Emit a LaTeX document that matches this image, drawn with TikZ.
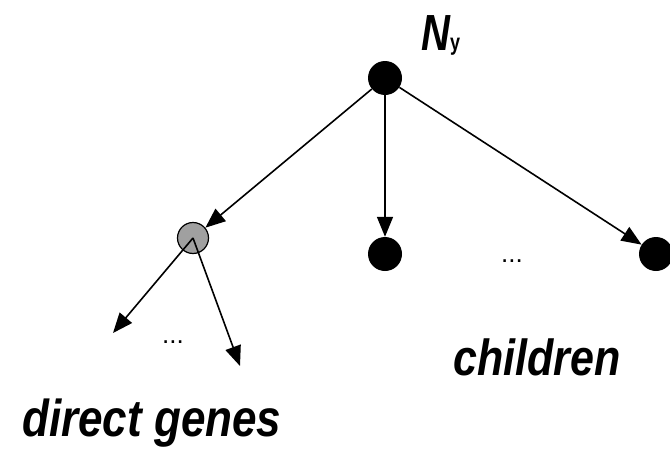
\documentclass[tikz,border=0pt]{standalone}
\usepackage{fontspec}
\setmainfont{Liberation Sans}
\usetikzlibrary{arrows.meta}
\begin{document}
\begin{tikzpicture}[x=1pt,y=-1pt,
  bdot/.style={circle,fill=black,minimum size=34pt,inner sep=0pt},
  gdot/.style={circle,draw=black,line width=1.2pt,fill={rgb,255:red,160;green,160;blue,160},minimum size=31pt,inner sep=0pt},
  arr/.style={line width=1.6pt,-{Triangle[length=20pt,width=16pt]}},
  dots/.style={font=\fontsize{26}{28}\selectfont,inner sep=0pt}]
\useasboundingbox (0,0) rectangle (670,450);
\node[bdot] (ny) at (385,78) {};
\node[gdot] (g) at (193,238) {};
\node[bdot] (c1) at (385,254) {};
\node[bdot] (c2) at (656,254) {};
\coordinate (d1) at (113,333);
\coordinate (d2) at (240,366);
\draw[arr] (ny) -- (g);
\draw[arr] (ny) -- (c1);
\draw[arr] (ny) -- (c2);
\draw[arr] (g.center) -- (d1);
\draw[arr] (g.center) -- (d2);
\node[inner sep=0pt,anchor=base west] (lab) at (421,50) {\scalebox{1}[1.27]{\fontsize{40}{48}\selectfont\bfseries\itshape N}\scalebox{1}[1.3]{\fontsize{18}{20}\selectfont\bfseries y}};
\node[inner sep=0pt,anchor=base west] (ch) at (453,375) {\scalebox{1}[1.18]{\fontsize{43}{50}\selectfont\bfseries\itshape children}};
\node[inner sep=0pt,anchor=base west] (dg) at (22,436) {\scalebox{1}[1.18]{\fontsize{44}{50}\selectfont\bfseries\itshape direct genes}};
\node[dots] (e1) at (512,261) {...};
\node[dots] (e2) at (173,342) {...};
\end{tikzpicture}
\end{document}
